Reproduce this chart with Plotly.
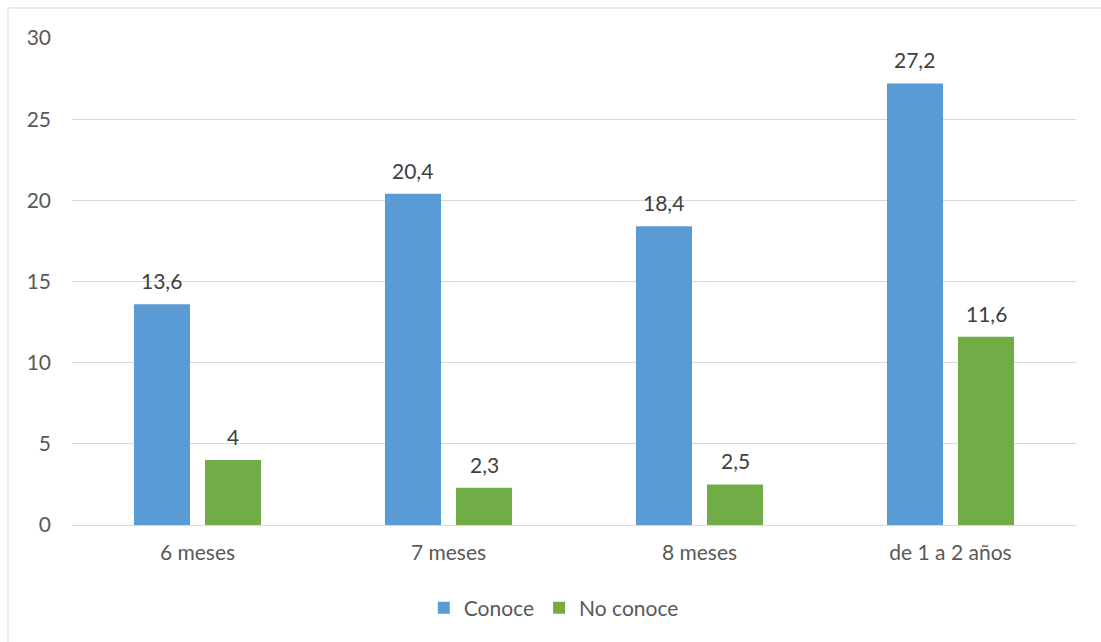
import plotly.graph_objects as go

# Age groups and percentage of mothers by knowledge
categories = ["6 meses", "7 meses", "8 meses", "de 1 a 2 años"]
conoce = [13.6, 20.4, 18.4, 27.2]
no_conoce = [4, 2.3, 2.5, 11.6]
y_ticks = [0, 5, 10, 15, 20, 25, 30]

BLUE = "#5B9BD5"
GREEN = "#70AD47"
GRID = "#D9D9D9"
TEXT = "#595959"
FONT = "Lato"
FS = 21

W, H = 1101, 642
L, R, T, B = 72, 25, 38, 117


def fmt(v):
    return f"{v:g}".replace(".", ",")


fig = go.Figure()
fig.add_trace(go.Bar(name="Conoce", x=categories, y=conoce, marker_color=BLUE,
                     marker_line_width=0))
fig.add_trace(go.Bar(name="No conoce", x=categories, y=no_conoce, marker_color=GREEN,
                     marker_line_width=0))

# Value labels above each bar
offset = 0.143
annotations = []
for i, (a, b) in enumerate(zip(conoce, no_conoce)):
    for xv, yv in ((i - offset, a), (i + offset, b)):
        annotations.append(dict(x=xv, y=yv, xref="x", yref="y", text=fmt(yv),
                                showarrow=False, yanchor="bottom", yshift=9,
                                font=dict(family=FONT, size=FS, color="#404040")))

pw, ph = W - L - R, H - T - B
fig.add_shape(type="rect", xref="paper", yref="paper",
              x0=(8 - L) / pw, x1=(W + 10 - L) / pw,
              y0=(H - B - (H + 10)) / ph, y1=(H - B - 8) / ph,
              line=dict(color=GRID, width=1), fillcolor="rgba(0,0,0,0)", layer="below")

fig.update_layout(
    width=W, height=H,
    margin=dict(l=L, r=R, t=T, b=B, autoexpand=False),
    paper_bgcolor="white", plot_bgcolor="white",
    barmode="group", bargap=0.434, bargroupgap=0.211,
    font=dict(family=FONT, size=FS, color=TEXT),
    showlegend=True,
    legend=dict(orientation="h", xref="container", yref="container",
                x=0.503, y=1 - 608 / H, xanchor="center", yanchor="middle",
                font=dict(family=FONT, size=FS, color=TEXT),
                itemwidth=30, traceorder="normal"),
    annotations=annotations,
    xaxis=dict(showgrid=False, showline=False, ticks="", ticklabelstandoff=13,
               tickfont=dict(family=FONT, size=FS, color=TEXT)),
    yaxis=dict(range=[0, 30], tickvals=y_ticks, showgrid=True, gridcolor=GRID,
               gridwidth=1, zeroline=True, zerolinecolor=GRID, zerolinewidth=1,
               showline=False, ticks="", ticklabelstandoff=20,
               tickfont=dict(family=FONT, size=FS, color=TEXT)),
)

fig.write_html("out.html")
